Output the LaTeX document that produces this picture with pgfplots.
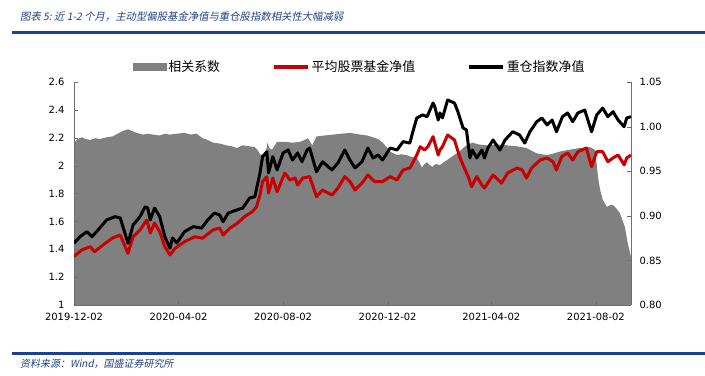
\documentclass[border=0pt]{standalone}
\usepackage{pgfplots}
\pgfplotsset{compat=1.18}
\usepackage{fontspec}
\setmainfont{DejaVu Sans}
\newfontfamily\cjk{Noto Sans CJK SC}
\newfontfamily\cjkit[FakeSlant=0.2]{Noto Sans CJK SC}
\definecolor{areagray}{RGB}{128,128,128}
\definecolor{fundred}{RGB}{200,0,0}
\definecolor{titleblue}{RGB}{35,65,135}
\definecolor{ruleblue}{RGB}{25,65,150}
\definecolor{axgray}{RGB}{110,110,110}
\begin{document}
\begin{tikzpicture}
\path[use as bounding box] (0bp,0bp) rectangle (705bp,-376bp);
% title
\node[anchor=west,text=titleblue,font=\cjkit\fontsize{10.4}{12}\selectfont,inner sep=0] at (20bp,-17bp) {图表 5:\ 近 1-2 个月，主动型偏股基金净值与重仓股指数相关性大幅减弱};
\draw[ruleblue,line width=2.2bp] (12bp,-32.5bp) -- (705bp,-32.5bp);
% footer
\draw[ruleblue,line width=2.2bp] (12bp,-353.5bp) -- (705bp,-353.5bp);
\node[anchor=west,text=titleblue,font=\cjkit\fontsize{10}{12}\selectfont,inner sep=0] at (20bp,-364bp) {资料来源：Wind，国盛证券研究所};

\pgfplotsset{
  common/.style={
    scale only axis, width=557bp, height=223bp,
    at={(352.5bp,-193.5bp)}, anchor=center,
    xmin=0, xmax=650,
    tick align=inside, major tick length=4bp,
    axis line style={draw=axgray,-}, tick style={draw=axgray},
    ticklabel style={font=\fontsize{10}{12}\selectfont},
    /pgf/number format/assume math mode=true,
  }
}
% correlation area on right axis
\begin{axis}[common,
  ymin=0.8, ymax=1.05,
  axis x line*=bottom, axis y line*=right,
  xtick={0,122,244,366,487,609},
  xticklabels={2019-12-02,2020-04-02,2020-08-02,2020-12-02,2021-04-02,2021-08-02},
  xticklabel style={yshift=-5bp},
  ytick={0.80,0.85,0.90,0.95,1.00,1.05},
  yticklabel style={xshift=5bp,/pgf/number format/fixed,/pgf/number format/fixed zerofill,/pgf/number format/precision=2},
  axis on top,
]
\addplot[fill=areagray, draw=none] coordinates {
(0,0.982) (4,0.986) (9,0.988) (14,0.986) (19,0.985) (25,0.987) (30,0.986) (38,0.988) (45,0.989) (51,0.992) (57,0.995) (63,0.997) (68,0.995) (73,0.993) (80,0.991) (86,0.992) (92,0.991) (100,0.990) (106,0.992) (112,0.991) (120,0.992) (129,0.993) (136,0.991) (143,0.992) (150,0.987) (156,0.985) (162,0.982) (170,0.981) (178,0.979) (184,0.978) (190,0.976) (197,0.979) (204,0.978) (211,0.977) (214,0.974) (217,0.969) (223,0.968) (226,0.982) (228,0.976) (231,0.974) (237,0.983) (245,0.983) (255,0.982) (264,0.983) (269,0.985) (273,0.987) (278,0.979) (283,0.989) (292,0.990) (302,0.991) (312,0.992) (322,0.993) (328,0.992) (334,0.991) (342,0.990) (349,0.988) (355,0.986) (360,0.982) (365,0.977) (369,0.972) (377,0.968) (382,0.969) (388,0.968) (394,0.966) (400,0.965) (403,0.960) (406,0.954) (409,0.958) (412,0.960) (415,0.957) (418,0.955) (422,0.958) (427,0.957) (433,0.961) (439,0.965) (445,0.969) (450,0.972) (454,0.976) (458,0.979) (465,0.982) (472,0.980) (482,0.979) (493,0.980) (505,0.979) (516,0.978) (528,0.976) (534,0.973) (540,0.970) (546,0.969) (552,0.968) (560,0.970) (567,0.972) (578,0.974) (590,0.976) (602,0.977) (606,0.975) (608,0.974) (610,0.957) (612,0.940) (614,0.929) (617,0.918) (620,0.913) (622,0.910) (626,0.912) (629,0.912) (633,0.908) (637,0.903) (640,0.895) (643,0.887) (646,0.870) (648,0.862) (650,0.854)
} \closedcycle;
\end{axis}
% fund lines on left axis
\begin{axis}[common,
  ymin=1, ymax=2.6,
  axis x line=none, axis y line*=left,
  ytick={1,1.2,1.4,1.6,1.8,2,2.2,2.4,2.6},
  yticklabel style={xshift=-6bp},
  legend columns=3,
  legend style={at={(0.513,1.067)}, anchor=center, draw=none, fill=none,
    font=\cjk\fontsize{13}{15}\selectfont,
    /tikz/every even column/.append style={column sep=50bp}},
  legend cell align=left,
]
\addlegendimage{legend image code/.code={\fill[areagray] (0bp,-3.5bp) rectangle (33bp,3.5bp);}}
\addlegendentry{相关系数}
\addplot[fundred, line width=3bp, line join=round,
  legend image code/.code={\draw[fundred,line width=3.5bp] (0bp,0bp) -- (34bp,0bp);}] coordinates {
(0,1.347) (9,1.395) (19,1.418) (24,1.382) (34,1.431) (45,1.481) (54,1.502) (63,1.371) (69,1.490) (77,1.538) (85,1.610) (89,1.517) (94,1.588) (100,1.526) (106,1.418) (112,1.359) (118,1.407) (129,1.454) (141,1.490) (150,1.479) (162,1.538) (170,1.552) (174,1.502) (182,1.552) (191,1.588) (199,1.634) (208,1.669) (213,1.705) (217,1.789) (220,1.885) (225,1.921) (227,1.804) (232,1.911) (237,1.813) (246,1.947) (252,1.897) (258,1.911) (261,1.861) (267,1.911) (275,1.921) (283,1.777) (290,1.825) (301,1.789) (308,1.839) (316,1.921) (322,1.885) (328,1.825) (336,1.875) (343,1.933) (351,1.885) (360,1.885) (369,1.921) (377,1.897) (384,1.969) (392,1.983) (400,2.076) (404,2.136) (409,2.112) (413,2.136) (419,2.208) (425,2.076) (427,2.112) (430,2.136) (436,2.220) (444,2.184) (450,2.064) (454,2.005) (460,1.921) (464,1.849) (470,1.921) (476,1.861) (479,1.839) (489,1.933) (499,1.875) (506,1.947) (517,1.983) (523,1.969) (528,1.911) (534,1.983) (544,2.040) (552,2.055) (559,2.028) (563,1.969) (569,2.064) (576,2.091) (582,2.040) (588,2.100) (598,2.126) (604,1.992) (610,2.100) (617,2.100) (623,2.028) (629,2.055) (635,2.076) (642,2.005) (645,2.055) (650,2.076)
};
\addlegendentry{平均股票基金净值}
\addplot[black, line width=3bp, line join=round,
  legend image code/.code={\draw[black,line width=3.5bp] (0bp,0bp) -- (34bp,0bp);}] coordinates {
(0,1.443) (7,1.490) (15,1.526) (21,1.490) (30,1.552) (38,1.610) (48,1.634) (54,1.624) (63,1.443) (69,1.574) (77,1.634) (83,1.705) (86,1.696) (89,1.610) (94,1.696) (100,1.634) (106,1.490) (112,1.407) (115,1.481) (120,1.445) (129,1.526) (139,1.562) (149,1.552) (156,1.610) (164,1.660) (170,1.646) (174,1.598) (180,1.660) (190,1.682) (197,1.696) (205,1.768) (211,1.777) (217,1.947) (220,2.064) (225,2.100) (227,1.947) (232,2.064) (237,1.969) (244,2.091) (250,2.112) (255,2.040) (261,2.091) (266,2.028) (272,2.112) (275,2.126) (283,1.956) (290,2.028) (301,1.969) (308,2.019) (316,2.112) (322,2.040) (328,1.983) (336,2.028) (343,2.126) (349,2.055) (355,2.076) (360,2.040) (369,2.126) (377,2.112) (384,2.172) (392,2.162) (395,2.234) (400,2.342) (407,2.364) (412,2.351) (419,2.449) (421,2.423) (425,2.327) (427,2.378) (430,2.342) (436,2.471) (444,2.449) (448,2.387) (454,2.270) (458,2.256) (462,2.055) (465,2.112) (470,2.055) (476,2.112) (479,2.055) (483,2.126) (489,2.184) (497,2.112) (503,2.184) (512,2.243) (520,2.220) (526,2.162) (532,2.243) (540,2.315) (546,2.342) (552,2.292) (558,2.327) (563,2.243) (570,2.351) (576,2.378) (582,2.315) (588,2.378) (596,2.399) (604,2.243) (610,2.364) (617,2.413) (623,2.351) (629,2.387) (635,2.327) (642,2.279) (645,2.342) (650,2.351)
};
\addlegendentry{重仓指数净值}
\end{axis}
\end{tikzpicture}
\end{document}
